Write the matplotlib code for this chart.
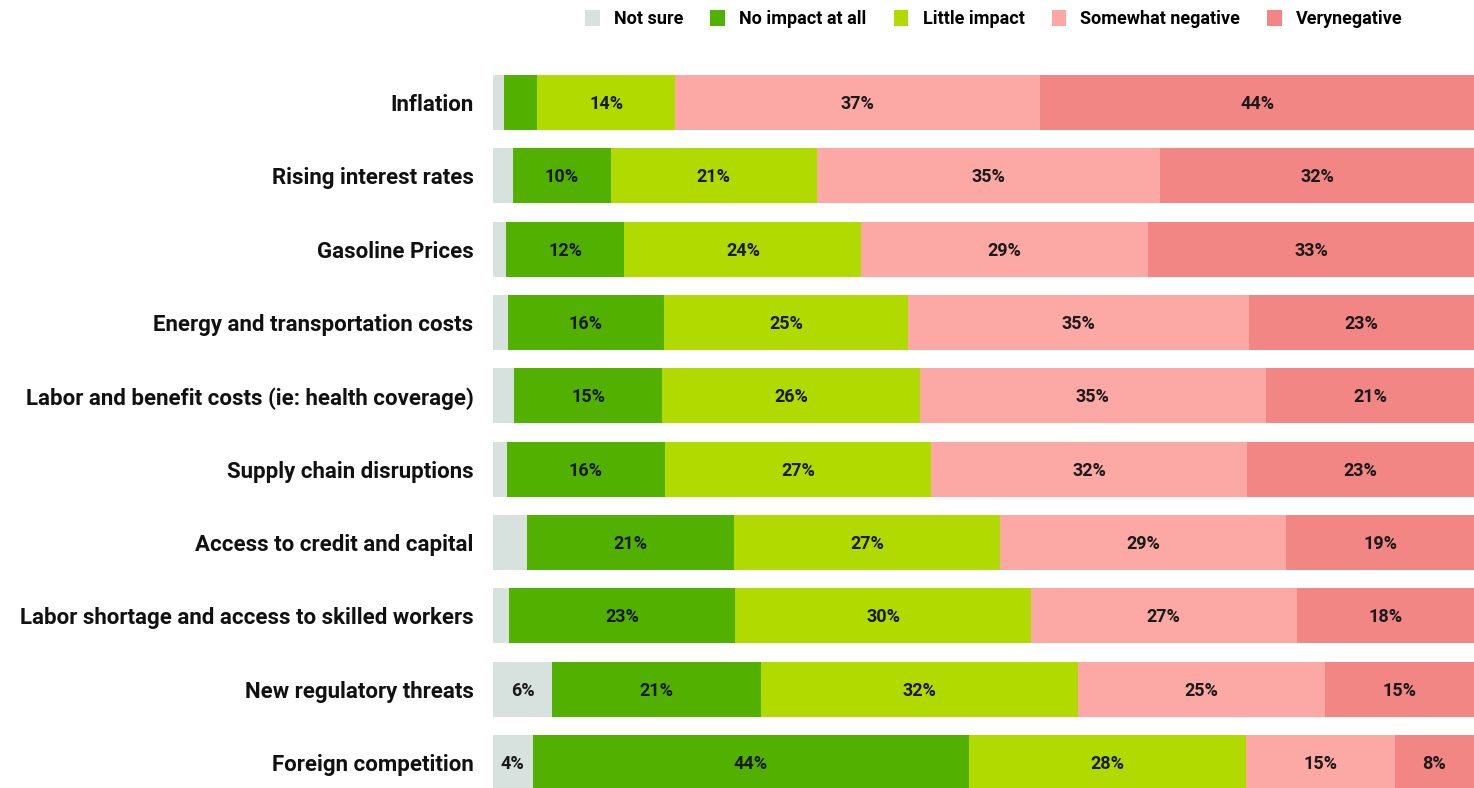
import matplotlib
matplotlib.use("Agg")
import matplotlib.pyplot as plt
from matplotlib.patches import Patch
import numpy as np

categories = [
    "Inflation",
    "Rising interest rates",
    "Gasoline Prices",
    "Energy and transportation costs",
    "Labor and benefit costs (ie: health coverage)",
    "Supply chain disruptions",
    "Access to credit and capital",
    "Labor shortage and access to skilled workers",
    "New regulatory threats",
    "Foreign competition",
]
series_names = ["Not sure", "No impact at all", "Little impact", "Somewhat negative", "Verynegative"]
not_sure = [1.1, 2.0, 1.3, 1.5, 2.1, 1.4, 3.4, 1.6, 6, 4]
no_impact = [3.4, 10, 12, 16, 15, 16, 21, 23, 21, 44]
little_impact = [14, 21, 24, 25, 26, 27, 27, 30, 32, 28]
somewhat_negative = [37, 35, 29, 35, 35, 32, 29, 27, 25, 15]
very_negative = [44, 32, 33, 23, 21, 23, 19, 18, 15, 8]
colors = ["#d7e1de", "#52b000", "#b0da00", "#fca9a5", "#f18684"]

plt.rcParams['font.family'] = ['Roboto', 'DejaVu Sans']

data = np.array([not_sure, no_impact, little_impact, somewhat_negative, very_negative], dtype=float)
totals = data.sum(axis=0)
norm = data / totals * 100.0

fig = plt.figure(figsize=(14.74, 7.88), dpi=100)
ax = fig.add_axes([493 / 1474, 0, 1 - 493 / 1474, 1])
y = np.arange(len(categories))
left = np.zeros(len(categories))
for k, name in enumerate(series_names):
    ax.barh(y, norm[k], left=left, height=0.75, color=colors[k], edgecolor='none', label=name)
    for i in range(len(categories)):
        v = data[k, i]
        if v >= 4:
            ax.text(left[i] + norm[k, i] / 2, y[i] + 0.02, f"{v:.0f}%", ha='center', va='center',
                    fontsize=13, fontweight='semibold', color='#1a1a1a')
    left += norm[k]

ax.set_xlim(0, 100)
ax.set_ylim(9.348, -1.398)
ax.set_yticks(y)
ax.set_yticklabels(categories, fontsize=16, fontweight='semibold', color='#111111')
ax.set_xticks([])
ax.tick_params(axis='y', length=0, pad=14)
for s in ax.spines.values():
    s.set_visible(False)

handles = [Patch(facecolor=c, edgecolor='none') for c in colors]
fig.legend(handles, series_names, loc='center', bbox_to_anchor=(994 / 1474, 1 - 19 / 788), ncol=5,
           frameon=False, handlelength=0.8, handleheight=1.0, handletextpad=0.8,
           columnspacing=1.5, prop={'weight': 'semibold', 'size': 13})

fig.savefig("out.png", dpi=100)
